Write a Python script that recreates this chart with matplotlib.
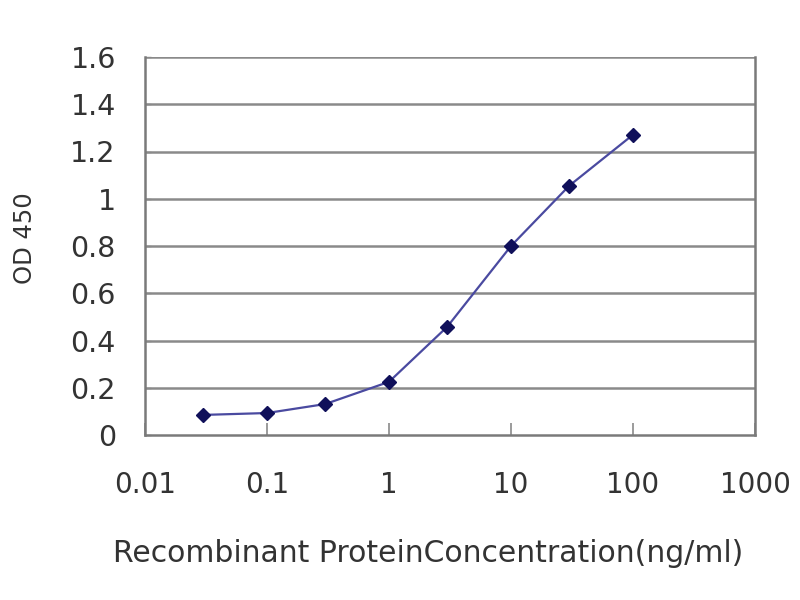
import numpy as np
import matplotlib
matplotlib.use("Agg")
import matplotlib.pyplot as plt

# concentration (ng/ml) and OD450
conc = [0.03, 0.1, 0.3, 1, 3, 10, 30, 100]
od450 = [0.085, 0.093, 0.131, 0.225, 0.458, 0.80, 1.055, 1.271]

xticks = [0.01, 0.1, 1, 10, 100, 1000]
xtick_labels = ["0.01", "0.1", "1", "10", "100", "1000"]
yticks = [0, 0.2, 0.4, 0.6, 0.8, 1, 1.2, 1.4, 1.6]
ytick_labels = ["0", "0.2", "0.4", "0.6", "0.8", "1", "1.2", "1.4", "1.6"]

# the original text looks like a wide Arial, DejaVu is close in width
plt.rcParams['font.family'] = ['DejaVu Sans']

fig = plt.figure(figsize=(8, 6), dpi=100)
ax = fig.add_axes([145/800, 1-435/600, 610/800, 378/600])

ax.set_xscale("log")
ax.set_xlim(0.01, 1000)
ax.set_ylim(0, 1.6)

for y in yticks[1:]:
    ax.axhline(y, color="#8a8a8a", lw=1.8, zorder=1)

ax.plot(conc, od450, color="#4a4aa0", lw=1.6, zorder=2)
ax.plot(conc, od450, linestyle="none", marker="D", markersize=7,
        color="#10105a", zorder=3)

ax.set_xticks(xticks)
ax.set_xticklabels(xtick_labels)
ax.minorticks_off()
ax.set_yticks(yticks)
ax.set_yticklabels(ytick_labels)

ax.tick_params(axis="x", direction="in", length=9, width=1.2, color="#8a8a8a",
               labelsize=20, labelcolor="#333333", pad=26)
ax.tick_params(axis="y", direction="in", length=4, width=1, color="#8a8a8a",
               labelsize=20.5, labelcolor="#333333", pad=21)

for side in ["left", "right", "bottom"]:
    ax.spines[side].set_color("#7a7a7a")
    ax.spines[side].set_linewidth(1.8)
ax.spines["top"].set_visible(False)

fig.text(428/800, 1-553/600, "Recombinant ProteinConcentration(ng/ml)",
         ha="center", va="center", fontsize=21.5, color="#333333")
fig.text(25/800, 1-238/600, "OD 450", rotation=90, ha="center", va="center",
         fontsize=17.5, color="#333333")

fig.savefig("out.png", dpi=100)
